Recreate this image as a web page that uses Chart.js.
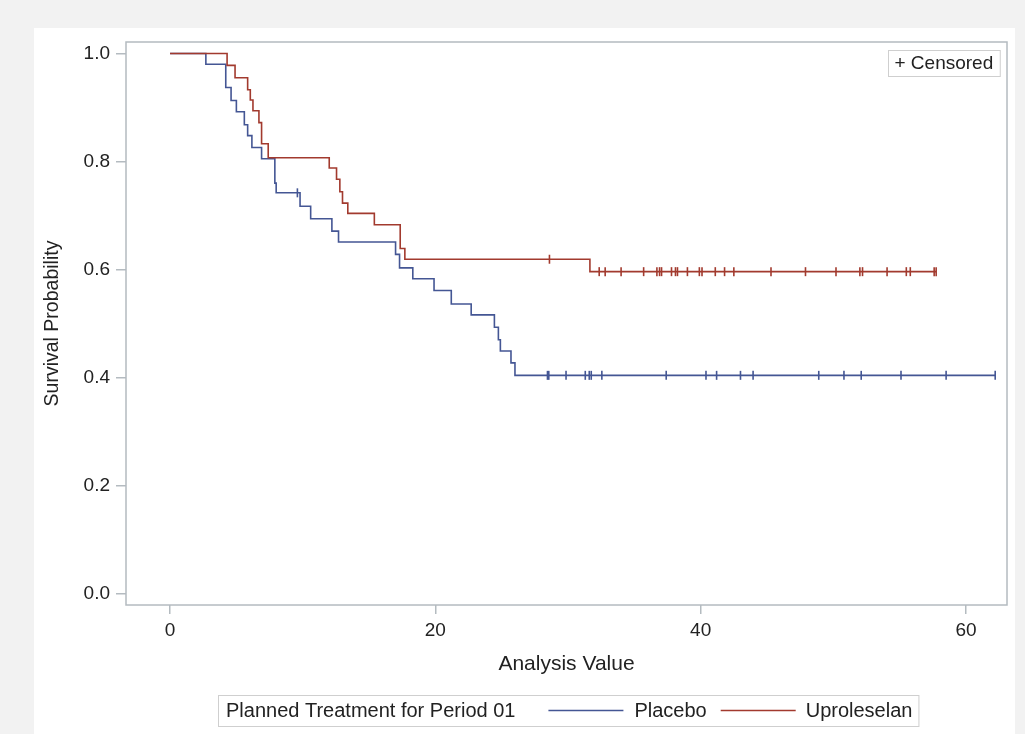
<!DOCTYPE html>
<html>
<head>
<meta charset="utf-8">
<title>Survival Probability</title>
<script src="https://cdn.jsdelivr.net/npm/chart.js@4.4.1/dist/chart.umd.min.js"></script>
<style>
    html, body { margin: 0; padding: 0; background: #f2f2f2; }
    #panel { position: absolute; left: 34px; top: 28px; width: 981px; height: 706px; background: #fff; }
</style>
</head>
<body>
<div id="panel"><canvas id="kmChart" width="981" height="706"></canvas></div>
<script>
// Kaplan-Meier steps: time of drop, survival after the drop
const placeboTimes = [0, 2.7, 4.2, 4.6, 5.0, 5.6, 5.85, 6.17, 6.9, 7.9, 8.0, 9.8, 10.6, 12.2, 12.7,
    17.0, 17.3, 18.3, 19.9, 21.2, 22.7, 24.45, 24.75, 24.9, 25.7, 26.0];
const placeboSurv = [1.0, 0.98, 0.937, 0.913, 0.892, 0.868, 0.848, 0.826, 0.805, 0.76, 0.742, 0.717, 0.694, 0.671, 0.651,
    0.628, 0.603, 0.583, 0.561, 0.536, 0.516, 0.493, 0.470, 0.449, 0.427, 0.404];
const placeboCensored = [9.6, 28.45, 28.55, 29.85, 31.3, 31.6, 31.75, 32.55, 37.4, 40.4, 41.2, 43.0, 43.95,
    48.9, 50.8, 52.1, 55.1, 58.5, 62.2];

const uproTimes = [0, 4.3, 4.9, 5.85, 6.05, 6.25, 6.7, 6.9, 7.4, 12.0, 12.55, 12.8, 13.0, 13.4, 15.4,
    17.35, 17.7, 31.65];
const uproSurv = [1.0, 0.978, 0.955, 0.933, 0.914, 0.894, 0.872, 0.833, 0.807, 0.788, 0.767, 0.744, 0.723, 0.704, 0.683,
    0.639, 0.619, 0.596];
const uproCensored = [28.6, 32.35, 32.8, 34.0, 35.7, 36.7, 36.9, 37.05, 37.8, 38.1, 38.25, 39.0, 39.9, 40.1,
    41.1, 41.8, 42.5, 45.3, 47.9, 50.2, 52.0, 52.2, 54.05, 55.5, 55.8, 57.6, 57.75];

const xTickValues = [0, 20, 40, 60];
const yTickValues = [0, 0.2, 0.4, 0.6, 0.8, 1.0];

const groupTitle = 'Planned Treatment for Period 01';
const groupNames = ['Placebo', 'Uproleselan'];
const censoredLabel = '+ Censored';

const blue = '#445694';
const red = '#a23a2e';
const axisColor = '#b4bbc0';
const textColor = '#222222';
const family = '"Liberation Sans", Arial, sans-serif';
const tickFont = { family: family, size: 19 };
const xTitleFont = { family: family, size: 21 };
const yTitleFont = { family: family, size: 19.5 };
const legendSize = 20;

// survival level of a curve at time t (for placing the censor marks)
function levelAt(times, surv, t) {
    let s = surv[0];
    for (let i = 0; i < times.length; i++) {
        if (times[i] <= t) s = surv[i];
    }
    return s;
}

function stepPoints(times, surv, censored) {
    const pts = times.map((t, i) => ({ x: t, y: surv[i] }));
    const last = censored[censored.length - 1];
    if (last > times[times.length - 1]) pts.push({ x: last, y: surv[surv.length - 1] });
    return pts;
}

function censorPoints(times, surv, censored) {
    return censored.map(t => ({ x: t, y: levelAt(times, surv, t) }));
}

function censorSet(label, data, color) {
    return {
        label: label,
        data: data,
        showLine: false,
        pointStyle: 'line',
        pointRotation: 90,
        pointRadius: 4.5,
        pointHoverRadius: 4.5,
        pointBorderColor: color,
        pointBorderWidth: 1.6
    };
}

function lineSet(label, data, color) {
    return {
        label: label,
        data: data,
        showLine: true,
        stepped: true,
        fill: false,
        pointRadius: 0,
        borderColor: color,
        borderWidth: 1.6
    };
}

const framePlugin = {
    id: 'frameAndLegends',
    afterDraw(chart) {
        const ctx = chart.ctx;
        const a = chart.chartArea;
        ctx.save();
        ctx.strokeStyle = axisColor;
        ctx.lineWidth = 1.5;
        ctx.strokeRect(a.left, a.top, a.right - a.left, a.bottom - a.top);

        ctx.textBaseline = 'middle';

        // inset legend for censor marks
        ctx.font = '19px ' + family;
        const cw = ctx.measureText(censoredLabel).width;
        const bw = cw + 13, bh = 26;
        const bx = Math.round(a.right - 7 - bw), by = Math.round(a.top + 8);
        ctx.fillStyle = '#fff';
        ctx.fillRect(bx, by, bw, bh);
        ctx.strokeStyle = '#cfcfcf';
        ctx.lineWidth = 1;
        ctx.strokeRect(bx + 0.5, by + 0.5, bw, bh);
        ctx.fillStyle = textColor;
        ctx.fillText(censoredLabel, bx + 6.5, by + bh / 2 + 1);

        // group legend below the axis title
        ctx.font = legendSize + 'px ' + family;
        const tw = ctx.measureText(groupTitle).width;
        const n1 = ctx.measureText(groupNames[0]).width;
        const n2 = ctx.measureText(groupNames[1]).width;
        const lineLen = 75;
        const total = 8 + tw + 33 + lineLen + 11 + n1 + 14 + lineLen + 10 + n2 + 6;
        let x = Math.round((a.left + a.right) / 2 + 1.5 - total / 2);
        const top = 667, h = 31, cy = top + h / 2;
        ctx.strokeStyle = '#cfcfcf';
        ctx.strokeRect(x + 0.5, top + 0.5, total, h);
        ctx.fillStyle = textColor;
        x += 8;
        ctx.fillText(groupTitle, x, cy + 1);
        x += tw + 33;
        ctx.lineWidth = 1.6;
        ctx.strokeStyle = blue;
        ctx.beginPath(); ctx.moveTo(x, cy); ctx.lineTo(x + lineLen, cy); ctx.stroke();
        x += lineLen + 11;
        ctx.fillText(groupNames[0], x, cy + 1);
        x += n1 + 14;
        ctx.strokeStyle = red;
        ctx.beginPath(); ctx.moveTo(x, cy); ctx.lineTo(x + lineLen, cy); ctx.stroke();
        x += lineLen + 10;
        ctx.fillText(groupNames[1], x, cy + 1);
        ctx.restore();
    }
};

const ctx = document.getElementById('kmChart').getContext('2d');
new Chart(ctx, {
    type: 'scatter',
    data: {
        datasets: [
            censorSet('Uproleselan censored', censorPoints(uproTimes, uproSurv, uproCensored), red),
            censorSet('Placebo censored', censorPoints(placeboTimes, placeboSurv, placeboCensored), blue),
            lineSet(groupNames[1], stepPoints(uproTimes, uproSurv, uproCensored), red),
            lineSet(groupNames[0], stepPoints(placeboTimes, placeboSurv, placeboCensored), blue)
        ]
    },
    options: {
        responsive: false,
        animation: false,
        devicePixelRatio: 1,
        layout: { padding: { left: 0, top: 14, right: 8, bottom: 57 } },
        plugins: {
            legend: { display: false },
            tooltip: { enabled: false }
        },
        scales: {
            x: {
                type: 'linear',
                min: -3.32,
                max: 63.09,
                afterBuildTicks: s => { s.ticks = xTickValues.map(v => ({ value: v })); },
                afterFit: s => { s.height = 72; s.paddingLeft = 0; s.paddingRight = 0; },
                grid: { drawOnChartArea: false, drawTicks: true, tickLength: 9, color: axisColor, lineWidth: 1.5 },
                border: { display: false },
                ticks: { font: tickFont, color: textColor, padding: 5, maxRotation: 0, callback: v => String(v) },
                title: { display: true, text: 'Analysis Value', font: xTitleFont, color: textColor, padding: { top: 0, bottom: 0 } }
            },
            y: {
                type: 'linear',
                min: -0.0213,
                max: 1.0213,
                afterBuildTicks: s => { s.ticks = yTickValues.map(v => ({ value: v })); },
                afterFit: s => { s.width = 92; s.paddingTop = 0; s.paddingBottom = 0; },
                grid: { drawOnChartArea: false, drawTicks: true, tickLength: 10, color: axisColor, lineWidth: 1.5 },
                border: { display: false },
                ticks: { font: tickFont, color: textColor, padding: 6, callback: v => v.toFixed(1) },
                title: { display: true, text: 'Survival Probability', font: yTitleFont, color: textColor, padding: { top: 6.7, bottom: 0 } }
            }
        }
    },
    plugins: [framePlugin]
});
</script>
</body>
</html>
